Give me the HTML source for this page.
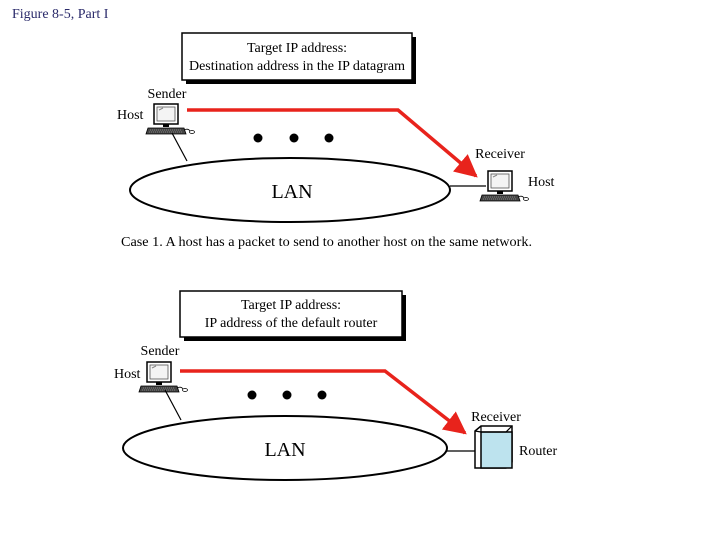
<!DOCTYPE html>
<html><head><meta charset="utf-8"><style>
html,body{margin:0;padding:0;background:#fff;}
svg{display:block;}
text{font-family:"Liberation Serif",serif;}
</style></head><body>
<svg width="720" height="540" viewBox="0 0 720 540" xmlns="http://www.w3.org/2000/svg">
<defs>
<g id="pc">
  <rect x="0" y="0" width="24" height="20" fill="#fff" stroke="#000" stroke-width="1.5"/>
  <rect x="3" y="3" width="18" height="14" fill="#f4f4f4" stroke="#555" stroke-width="0.8"/>
  <path d="M5 6 L9 4" stroke="#888" stroke-width="1"/>
  <rect x="9" y="20" width="6" height="3" fill="#000"/>
  <path d="M-6 24 L30 24 L32 30 L-8 30 Z" fill="#444" stroke="#000" stroke-width="0.8"/>
  <path d="M-4 26 L28 26 M-5 28 L29 28" stroke="#bbb" stroke-width="0.6" stroke-dasharray="1 1"/>
  <path d="M30 26 Q34 24 36 27" fill="none" stroke="#000" stroke-width="0.8"/>
  <ellipse cx="38" cy="28" rx="2.5" ry="1.5" fill="#fff" stroke="#000" stroke-width="0.8"/>
</g>
<marker id="ar" viewBox="0 0 10 10" refX="9" refY="5" markerWidth="6.5" markerHeight="6.5" orient="auto">
  <path d="M0 0 L10 5 L0 10 Z" fill="#e8231c"/>
</marker>
</defs>

<text x="12" y="18" font-size="14" fill="#2a2a6a">Figure  8-5, Part I</text>

<rect x="186" y="37" width="230" height="47" fill="#000"/>
<rect x="182" y="33" width="230" height="47" fill="#fff" stroke="#000" stroke-width="1.5"/>
<text x="297" y="52" font-size="14" text-anchor="middle">Target IP address:</text>
<text x="297" y="70" font-size="14" text-anchor="middle">Destination address in the IP datagram</text>

<text x="167" y="98" font-size="14" text-anchor="middle">Sender</text>
<text x="117" y="119" font-size="14">Host</text>
<use href="#pc" x="154" y="104"/>
<line x1="172" y1="133" x2="187" y2="161" stroke="#000" stroke-width="1.2"/>

<polyline points="187,110 398,110 476,176" fill="none" stroke="#e8231c" stroke-width="3.5" marker-end="url(#ar)"/>
<circle cx="258" cy="138" r="4.5" fill="#000"/>
<circle cx="294" cy="138" r="4.5" fill="#000"/>
<circle cx="329" cy="138" r="4.5" fill="#000"/>

<ellipse cx="290" cy="190" rx="160" ry="32" fill="#fff" stroke="#000" stroke-width="2"/>
<text x="292" y="198" font-size="20" text-anchor="middle">LAN</text>
<line x1="450" y1="186" x2="486" y2="186" stroke="#000" stroke-width="1.2"/>
<text x="500" y="158" font-size="14" text-anchor="middle">Receiver</text>
<use href="#pc" x="488" y="171"/>
<text x="528" y="186" font-size="14">Host</text>

<text x="121" y="246" font-size="14" textLength="411" lengthAdjust="spacingAndGlyphs">Case 1.  A host has a packet to send to another host on the same network.</text>

<rect x="184" y="295" width="222" height="46" fill="#000"/>
<rect x="180" y="291" width="222" height="46" fill="#fff" stroke="#000" stroke-width="1.5"/>
<text x="291" y="309" font-size="14" text-anchor="middle">Target IP address:</text>
<text x="291" y="327" font-size="14" text-anchor="middle">IP address of the default  router</text>

<text x="160" y="355" font-size="14" text-anchor="middle">Sender</text>
<text x="114" y="378" font-size="14">Host</text>
<use href="#pc" x="147" y="362"/>
<line x1="165" y1="390" x2="181" y2="420" stroke="#000" stroke-width="1.2"/>

<polyline points="180,371 385,371 465,433" fill="none" stroke="#e8231c" stroke-width="3.5" marker-end="url(#ar)"/>
<circle cx="252" cy="395" r="4.5" fill="#000"/>
<circle cx="287" cy="395" r="4.5" fill="#000"/>
<circle cx="322" cy="395" r="4.5" fill="#000"/>

<ellipse cx="285" cy="448" rx="162" ry="32" fill="#fff" stroke="#000" stroke-width="2"/>
<text x="285" y="456" font-size="20" text-anchor="middle">LAN</text>
<line x1="447" y1="451" x2="475" y2="451" stroke="#000" stroke-width="1.2"/>
<text x="496" y="421" font-size="14" text-anchor="middle">Receiver</text>
<path d="M475 431 L481 426 L512 426 L512 462 L506 468 L475 468 Z" fill="#fff" stroke="#000" stroke-width="1.5"/>
<rect x="481" y="432" width="31" height="36" fill="#bde3ee" stroke="#000" stroke-width="1.5"/>
<path d="M475 431 L481 432 M481 426 L481 432 L506 432 L512 426" fill="none" stroke="#000" stroke-width="1.2"/>
<text x="519" y="455" font-size="14">Router</text>
</svg>
</body></html>
